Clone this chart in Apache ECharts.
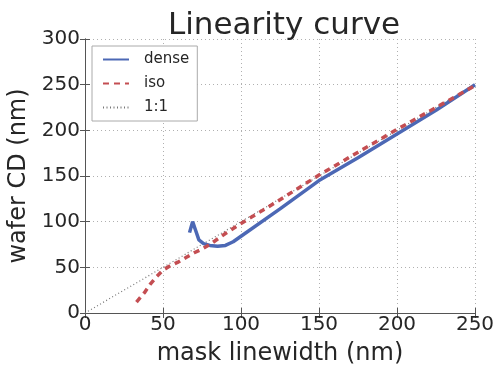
<!DOCTYPE html>
<html>
<head>
<meta charset="utf-8">
<script src="https://cdn.jsdelivr.net/npm/echarts@6/dist/echarts.min.js"></script>
<style>
  html, body { margin: 0; padding: 0; background: #fff; }
  #chart { width: 495px; height: 366px; }
</style>
</head>
<body>
<div id="chart"></div>
<script>
// Mask linewidth (nm) vs measured wafer CD (nm)
const denseMask = [67, 69, 71, 73, 76, 80, 85, 90, 95, 100, 125, 150, 175, 200, 225, 250];
const denseCD   = [88, 100, 90, 80, 76, 74, 73, 74, 78, 84, 114, 145, 170, 196, 222, 250];
const isoMask = [33, 38, 42, 46, 50, 55, 60, 65, 70, 75, 80, 90, 100, 125, 150, 175, 200, 225, 250];
const isoCD   = [12, 22, 32, 40, 47, 52, 56, 61, 66, 70, 75, 87, 98, 124, 151, 176, 201, 225, 249];
const refMask = [0, 250];
const refCD   = [0, 250];

const FONT = 'DejaVu Sans';
const pair = (xs, ys) => xs.map((x, i) => [x, ys[i]]);

const frameLine = { show: true, lineStyle: { color: '#555', width: 1 } };
const tickIn = { show: true, inside: true, length: 5, lineStyle: { color: '#555' } };
const gridLine = { show: true, lineStyle: { color: '#b0b0b0', type: [1, 3], width: 1 } };

const chart = echarts.init(document.getElementById('chart'), null, { renderer: 'canvas' });
chart.setOption({
  animation: false,
  backgroundColor: '#fff',
  textStyle: { fontFamily: FONT },
  title: {
    text: 'Linearity curve',
    left: 279, top: 5, textAlign: 'center',
    textStyle: { fontFamily: FONT, fontSize: 31, fontWeight: 'normal', color: '#262626' }
  },
  grid: { left: 85, right: 20, top: 39, bottom: 53, containLabel: false, outerBoundsMode: 'none' },
  legend: {
    left: 92, top: 46, orient: 'vertical',
    itemWidth: 26, itemHeight: 14, itemGap: 9,
    padding: [6, 8, 6, 10],
    borderColor: '#aaa', borderWidth: 1, backgroundColor: '#fff',
    itemStyle: { opacity: 0 },
    textStyle: { fontFamily: FONT, fontSize: 15, color: '#262626', padding: [0, 0, 0, 10] },
    data: ['dense', 'iso', '1:1']
  },
  xAxis: [{
    type: 'value', min: 0, max: 250, interval: 50,
    name: 'mask linewidth (nm)', nameLocation: 'middle', nameGap: 29,
    nameTextStyle: { fontFamily: FONT, fontSize: 24, color: '#262626' },
    axisLine: frameLine, axisTick: tickIn, splitLine: gridLine,
    axisLabel: { fontFamily: FONT, fontSize: 20, color: '#262626', margin: 2 }
  }, {
    type: 'value', position: 'top', min: 0, max: 250, interval: 50,
    axisLine: frameLine, axisTick: tickIn, splitLine: { show: false },
    axisLabel: { show: false }
  }],
  yAxis: [{
    type: 'value', min: 0, max: 300, interval: 50,
    name: 'wafer CD (nm)', nameLocation: 'middle', nameGap: 46,
    nameTextStyle: { fontFamily: FONT, fontSize: 24, color: '#262626' },
    axisLine: frameLine, axisTick: tickIn, splitLine: gridLine,
    axisLabel: { fontFamily: FONT, fontSize: 20, color: '#262626', margin: 5 }
  }, {
    type: 'value', position: 'right', min: 0, max: 300, interval: 50,
    axisLine: frameLine, axisTick: tickIn, splitLine: { show: false },
    axisLabel: { show: false }
  }],
  series: [{
    name: 'dense', type: 'line', symbol: 'none', smooth: false,
    data: pair(denseMask, denseCD),
    lineStyle: { color: '#4c68b5', width: 3.5 }, itemStyle: { color: '#4c68b5' }, z: 3
  }, {
    name: 'iso', type: 'line', symbol: 'none',
    data: pair(isoMask, isoCD),
    lineStyle: { color: '#c44e52', width: 3.5, type: [6, 5] }, itemStyle: { color: '#c44e52' }, z: 4
  }, {
    name: '1:1', type: 'line', symbol: 'none',
    data: pair(refMask, refCD),
    lineStyle: { color: '#777', width: 1.2, type: [1, 2.5] }, itemStyle: { color: '#777' }, z: 2
  }]
});
</script>
</body>
</html>
